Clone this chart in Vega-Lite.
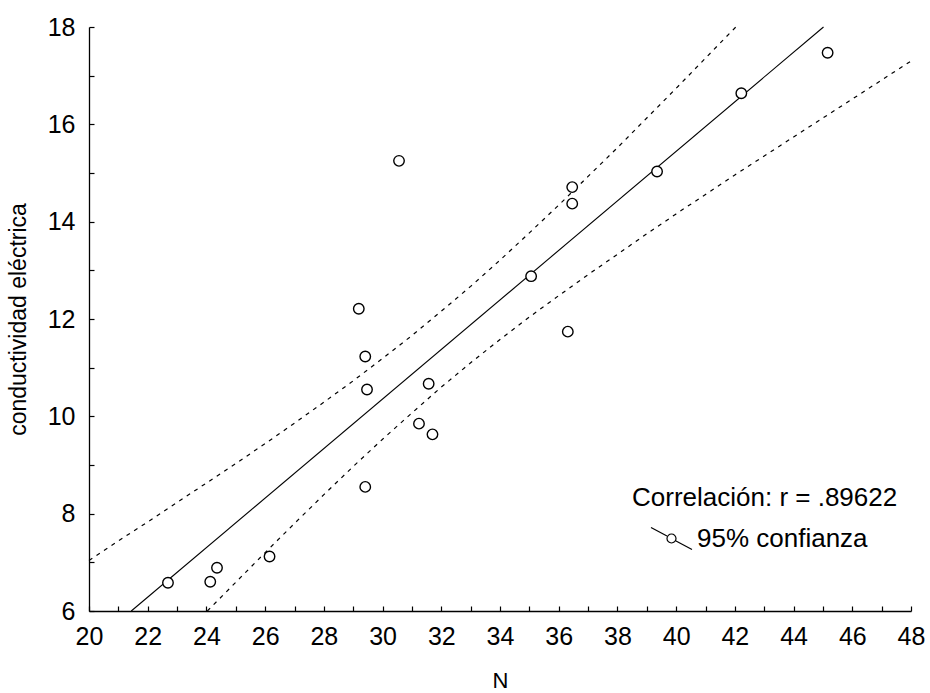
{
  "$schema": "https://vega.github.io/schema/vega-lite/v6.json",
  "width": 822,
  "height": 584,
  "autosize": {"type": "none"},
  "padding": {"left": 89, "top": 27, "right": 19, "bottom": 82},
  "background": "#ffffff",
  "config": {
    "view": {"stroke": null},
    "font": "Liberation Sans",
    "axis": {
      "grid": false,
      "domainColor": "#000000",
      "domainWidth": 1.3,
      "tickColor": "#000000",
      "tickWidth": 1.2,
      "tickSize": -5,
      "labelFont": "Liberation Sans",
      "labelFontSize": 25,
      "labelColor": "#000000",
      "labelOverlap": false,
      "labelFlush": false,
      "titleFont": "Liberation Sans",
      "titleFontWeight": "normal",
      "titleColor": "#000000"
    }
  },
  "datasets": {
    "puntos": [
      {"N": 22.69, "CE": 6.58},
      {"N": 24.13, "CE": 6.60},
      {"N": 24.36, "CE": 6.89},
      {"N": 26.15, "CE": 7.12},
      {"N": 29.19, "CE": 12.21},
      {"N": 29.41, "CE": 11.23},
      {"N": 29.47, "CE": 10.55},
      {"N": 29.41, "CE": 8.55},
      {"N": 30.56, "CE": 15.25},
      {"N": 31.57, "CE": 10.67},
      {"N": 31.24, "CE": 9.85},
      {"N": 31.70, "CE": 9.63},
      {"N": 35.06, "CE": 12.88},
      {"N": 36.31, "CE": 11.74},
      {"N": 36.46, "CE": 14.71},
      {"N": 36.46, "CE": 14.37},
      {"N": 39.35, "CE": 15.03},
      {"N": 42.22, "CE": 16.64},
      {"N": 45.16, "CE": 17.47}
    ],
    "ajuste": [
      {"N": 21.44, "CE": 6.0},
      {"N": 45.02, "CE": 18.0}
    ],
    "bandas": [
      {"curva": "superior", "N": 20, "CE": 7.04},
      {"curva": "superior", "N": 21, "CE": 7.44},
      {"curva": "superior", "N": 22, "CE": 7.83},
      {"curva": "superior", "N": 23, "CE": 8.23},
      {"curva": "superior", "N": 24, "CE": 8.63},
      {"curva": "superior", "N": 25, "CE": 9.03},
      {"curva": "superior", "N": 26, "CE": 9.44},
      {"curva": "superior", "N": 27, "CE": 9.86},
      {"curva": "superior", "N": 28, "CE": 10.29},
      {"curva": "superior", "N": 29, "CE": 10.73},
      {"curva": "superior", "N": 30, "CE": 11.19},
      {"curva": "superior", "N": 31, "CE": 11.66},
      {"curva": "superior", "N": 32, "CE": 12.16},
      {"curva": "superior", "N": 33, "CE": 12.67},
      {"curva": "superior", "N": 34, "CE": 13.21},
      {"curva": "superior", "N": 35, "CE": 13.77},
      {"curva": "superior", "N": 36, "CE": 14.34},
      {"curva": "superior", "N": 37, "CE": 14.93},
      {"curva": "superior", "N": 38, "CE": 15.52},
      {"curva": "superior", "N": 39, "CE": 16.13},
      {"curva": "superior", "N": 40, "CE": 16.74},
      {"curva": "superior", "N": 41, "CE": 17.36},
      {"curva": "superior", "N": 42, "CE": 17.98},
      {"curva": "superior", "N": 42.03, "CE": 18.0},
      {"curva": "inferior", "N": 24.03, "CE": 6.0},
      {"curva": "inferior", "N": 25, "CE": 6.59},
      {"curva": "inferior", "N": 26, "CE": 7.20},
      {"curva": "inferior", "N": 27, "CE": 7.80},
      {"curva": "inferior", "N": 28, "CE": 8.39},
      {"curva": "inferior", "N": 29, "CE": 8.97},
      {"curva": "inferior", "N": 30, "CE": 9.53},
      {"curva": "inferior", "N": 31, "CE": 10.07},
      {"curva": "inferior", "N": 32, "CE": 10.60},
      {"curva": "inferior", "N": 33, "CE": 11.10},
      {"curva": "inferior", "N": 34, "CE": 11.58},
      {"curva": "inferior", "N": 35, "CE": 12.04},
      {"curva": "inferior", "N": 36, "CE": 12.48},
      {"curva": "inferior", "N": 37, "CE": 12.91},
      {"curva": "inferior", "N": 38, "CE": 13.33},
      {"curva": "inferior", "N": 39, "CE": 13.75},
      {"curva": "inferior", "N": 40, "CE": 14.16},
      {"curva": "inferior", "N": 41, "CE": 14.56},
      {"curva": "inferior", "N": 42, "CE": 14.96},
      {"curva": "inferior", "N": 43, "CE": 15.35},
      {"curva": "inferior", "N": 44, "CE": 15.74},
      {"curva": "inferior", "N": 45, "CE": 16.13},
      {"curva": "inferior", "N": 46, "CE": 16.52},
      {"curva": "inferior", "N": 47, "CE": 16.91},
      {"curva": "inferior", "N": 48, "CE": 17.30}
    ]
  },
  "encoding": {
    "x": {
      "field": "N",
      "type": "quantitative",
      "scale": {"domain": [20, 48], "nice": false, "zero": false},
      "axis": {
        "title": "N",
        "titleFontSize": 22,
        "titlePadding": 21,
        "values": [20,21,22,23,24,25,26,27,28,29,30,31,32,33,34,35,36,37,38,39,40,41,42,43,44,45,46,47,48],
        "labelExpr": "datum.value % 2 === 0 ? datum.label : ''",
        "labelPadding": 18
      }
    },
    "y": {
      "field": "CE",
      "type": "quantitative",
      "scale": {"domain": [6, 18], "nice": false, "zero": false},
      "axis": {
        "title": "conductividad eléctrica",
        "titleFontSize": 23,
        "titlePadding": 17,
        "values": [6,7,8,9,10,11,12,13,14,15,16,17,18],
        "labelExpr": "datum.value % 2 === 0 ? datum.label : ''",
        "labelPadding": 19
      }
    }
  },
  "layer": [
    {
      "data": {"name": "bandas"},
      "mark": {"type": "line", "strokeWidth": 1.2, "strokeDash": [4, 5]},
      "encoding": {
        "detail": {"field": "curva", "type": "nominal"},
        "color": {
          "datum": "95% confianza",
          "type": "nominal",
          "scale": {"range": ["#000000"]},
          "legend": {
            "orient": "none",
            "legendX": 543,
            "legendY": 458,
            "padding": 0,
            "title": "Correlación: r = .89622",
            "titleFont": "Liberation Sans",
            "titleFontSize": 26,
            "titleFontWeight": "normal",
            "titleColor": "#000000",
            "titlePadding": 6,
            "titleLimit": 500,
            "labelFont": "Liberation Sans",
            "labelFontSize": 26,
            "labelColor": "#000000",
            "labelOffset": 4,
            "labelLimit": 500,
            "symbolType": "M-1,-0.54L-0.22,-0.12M0.22,0.12L1,0.54M0.22,0A0.22,0.22 0 1,1 -0.22,0A0.22,0.22 0 1,1 0.22,0",
            "symbolSize": 1681,
            "symbolStrokeWidth": 1.2,
            "symbolFillColor": "#ffffff",
            "symbolStrokeColor": "#000000",
            "symbolOffset": 18
          }
        }
      }
    },
    {
      "data": {"name": "ajuste"},
      "mark": {"type": "line", "strokeWidth": 1.1, "color": "#000000"},
      "encoding": {}
    },
    {
      "data": {"name": "puntos"},
      "mark": {"type": "point", "shape": "circle", "size": 110, "filled": false, "fill": "#ffffff", "fillOpacity": 1, "stroke": "#000000", "strokeWidth": 1.4, "opacity": 1},
      "encoding": {}
    }
  ]
}
